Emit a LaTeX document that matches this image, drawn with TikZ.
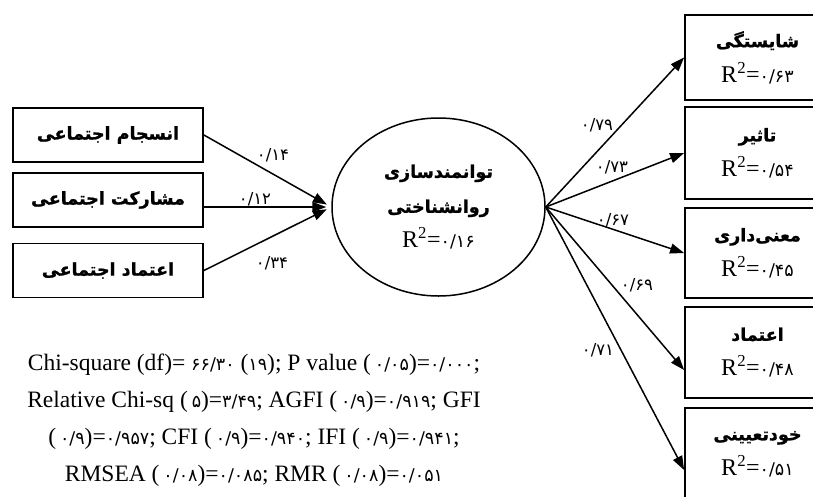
\documentclass[tikz,border=0pt]{standalone}
\usepackage{fontspec}
\setmainfont{Liberation Serif}
\newfontfamily\fa[Script=Arabic]{DejaVu Sans}
\newfontfamily\fab[Script=Arabic,FakeBold=1.2]{DejaVu Sans Bold}
\TeXXeTstate=1
\usetikzlibrary{arrows.meta,calc,shapes.geometric}
\newcommand\pd[1]{{\fa\fontsize{17.5}{17.5}\selectfont #1}}
\newcommand\fat[1]{{\fab\fontsize{17.5}{20}\selectfont\beginR #1\endR}}
\newcommand\rsq[1]{{\fontsize{24}{24}\selectfont R\textsuperscript{2}=}\pd{#1}}
\begin{document}
\begin{tikzpicture}[x=1pt,y=-1pt,
  box/.style={draw,line width=1.8pt,inner sep=0pt,align=center,font=\fontsize{18}{35}\selectfont},
  arr/.style={line width=1.5pt,-{Triangle[length=14pt,width=10pt]}},
  lab/.style={font=\fa\fontsize{16.5}{16.5}\selectfont,inner sep=0pt}]
\clip (0,0) rectangle (813,496);
% left boxes
\node[box,minimum width=190pt,minimum height=54pt] (l1) at (108,135) {\fat{انسجام اجتماعی}};
\node[box,minimum width=190pt,minimum height=54pt] (l2) at (108,200) {\fat{مشارکت اجتماعی}};
\node[box,minimum width=190pt,minimum height=54pt] (l3) at (108,270.5) {\fat{اعتماد اجتماعی}};
% ellipse
\node[draw,ellipse,line width=1.5pt,minimum width=213pt,minimum height=178pt,inner sep=0pt,align=center,font=\fontsize{18}{35}\selectfont] (e) at (438.5,207)
  {\fat{توانمندسازی}\\ \fat{روانشناختی}\\ \rsq{۰/۱۶}};
% right boxes
\node[box,minimum width=145pt,minimum height=85pt] (r1) at (757.5,57.5) {\fat{شایستگی}\\ \rsq{۰/۶۳}};
\node[box,minimum width=145pt,minimum height=92pt] (r2) at (757.5,153) {\fat{تاثیر}\\ \rsq{۰/۵۴}};
\node[box,minimum width=145pt,minimum height=90pt] (r3) at (757.5,253) {\fat{معنی‌داری}\\ \rsq{۰/۴۵}};
\node[box,minimum width=145pt,minimum height=91pt] (r4) at (757.5,352.5) {\fat{اعتماد}\\ \rsq{۰/۴۸}};
\node[box,minimum width=145pt,minimum height=92pt] (r5) at (757.5,454) {\fat{خودتعیینی}\\ \rsq{۰/۵۱}};
% left arrows
\draw[arr,shorten >=5pt] (l1.east) -- (e.west);
\draw[arr,shorten >=5pt] (l2.east |- e.west) -- (e.west);
\draw[arr,shorten >=5pt] (l3.east) -- (e.west);
% right arrows
\draw[arr] (e.east) -- (r1.west);
\draw[arr] (e.east) -- (r2.west);
\draw[arr] (e.east) -- (r3.west);
\draw[arr] (e.east) -- ($(r4.west)+(0,17.5)$);
\draw[arr] (e.east) -- ($(r5.west)+(0,16)$);
% labels
\node[lab] (a1) at (273,155) {۰/۱۴};
\node[lab] (a2) at (255,199) {۰/۱۲};
\node[lab] (a3) at (272,263) {۰/۳۴};
\node[lab] (b1) at (597,125) {۰/۷۹};
\node[lab] (b2) at (612,167) {۰/۷۳};
\node[lab] (b3) at (613,220) {۰/۶۷};
\node[lab] (b4) at (637,285) {۰/۶۹};
\node[lab] (b5) at (598,350) {۰/۷۱};
% fit indices
\node[align=center,inner sep=0pt,font=\fontsize{23.5}{37}\selectfont] (fit) at (254,420)
 {Chi-square (df)= \pd{۶۶/۳۰} (\pd{۱۹}); P value (\,\pd{۰/۰۵})=\pd{۰/۰۰۰};\\
  Relative Chi-sq (\,\pd{۵})=\pd{۳/۴۹}; AGFI (\,\pd{۰/۹})=\pd{۰/۹۱۹}; GFI\\
  (\,\pd{۰/۹})=\pd{۰/۹۵۷}; CFI (\,\pd{۰/۹})=\pd{۰/۹۴۰}; IFI (\,\pd{۰/۹})=\pd{۰/۹۴۱};\\
  RMSEA (\,\pd{۰/۰۸})=\pd{۰/۰۸۵}; RMR (\,\pd{۰/۰۸})=\pd{۰/۰۵۱}};
\end{tikzpicture}
\end{document}
